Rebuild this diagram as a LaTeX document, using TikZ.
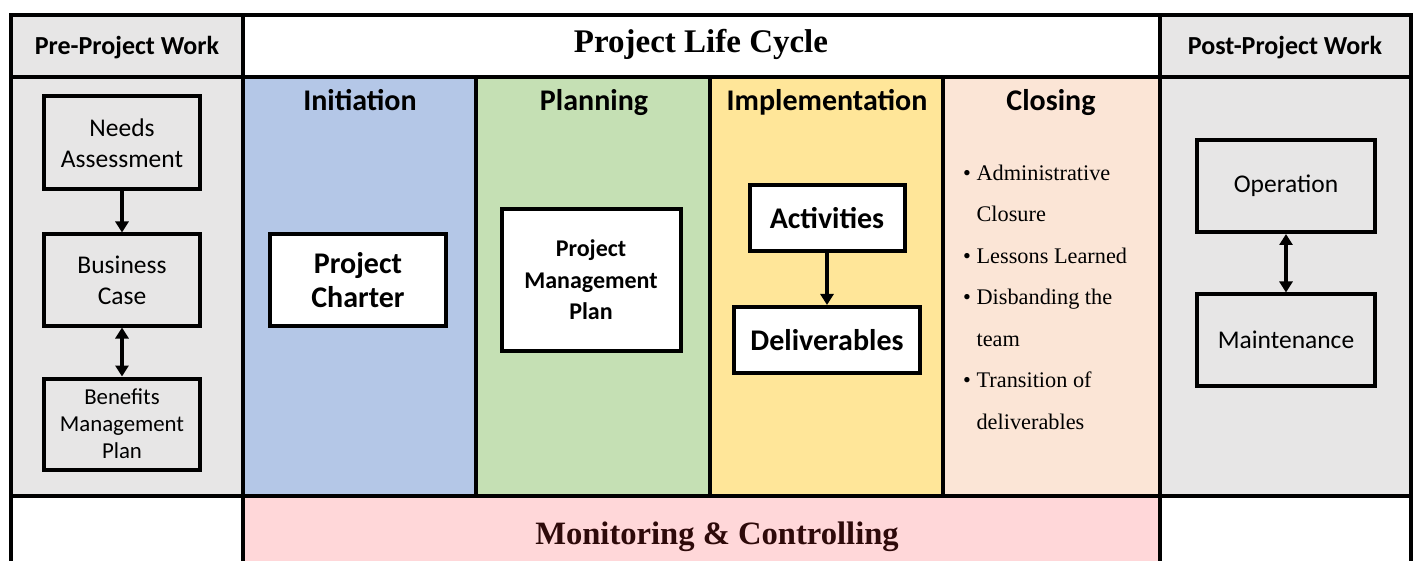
\documentclass[tikz,border=0pt]{standalone}
\usepackage{fontspec}
\setmainfont{Liberation Serif}
\newfontfamily\carlito{Carlito}
\usetikzlibrary{arrows.meta}
\definecolor{greybg}{HTML}{E7E6E6}
\definecolor{initc}{HTML}{B4C7E7}
\definecolor{planc}{HTML}{C5E0B4}
\definecolor{implc}{HTML}{FFE699}
\definecolor{closc}{HTML}{FBE5D6}
\definecolor{monc}{HTML}{FFD7D9}
\definecolor{montext}{HTML}{2E0A0A}
\begin{document}
\begin{tikzpicture}[x=1pt,y=-1pt,
  frame/.style={line width=4pt,black},
  sidebox/.style={draw,line width=4pt,fill=greybg,align=center,inner sep=0pt,
     font=\carlito\fontsize{25.5}{31}\selectfont},
  phasebox/.style={draw,line width=4pt,fill=white,align=center,inner sep=0pt,
     font=\carlito\bfseries\fontsize{30}{34}\selectfont},
  hdr/.style={anchor=base,font=\carlito\bfseries\fontsize{26}{30}\selectfont},
  phase/.style={anchor=base,font=\carlito\bfseries\fontsize{30}{34}\selectfont},
  arr/.style={line width=4pt,-{Triangle[length=11pt,width=13pt]}},
  darr/.style={line width=4pt,{Triangle[length=11pt,width=13pt]}-{Triangle[length=11pt,width=13pt]}}
]
\useasboundingbox (0,0) rectangle (1416,561);
% backgrounds
\fill[greybg] (11,15) rectangle (243,496);
\fill[greybg] (1160,15) rectangle (1411,496);
\fill[initc] (243,77) rectangle (476,496);
\fill[planc] (476,77) rectangle (710,496);
\fill[implc] (710,77) rectangle (943,496);
\fill[closc] (943,77) rectangle (1160,496);
\fill[monc] (243,496) rectangle (1160,561);
% frame lines
\draw[frame] (11,561) -- (11,15) -- (1411,15) -- (1411,561);
\draw[frame] (11,77) -- (1411,77);
\draw[frame] (11,496) -- (1411,496);
\draw[frame] (243,15) -- (243,561);
\draw[frame] (1160,15) -- (1160,561);
\draw[frame] (476,77) -- (476,496);
\draw[frame] (710,77) -- (710,496);
\draw[frame] (943,77) -- (943,496);
% headers
\node[hdr] (pre) at (127,55) {Pre-Project Work};
\node[anchor=base,font=\bfseries\fontsize{33}{36}\selectfont] (plc) at (701,53) {Project Life Cycle};
\node[hdr] (post) at (1285,55) {Post-Project Work};
\node[phase] (ini) at (360,111) {Initiation};
\node[phase] (pla) at (594,111) {Planning};
\node[phase] (imp) at (827,111) {Implementation};
\node[phase] (clo) at (1051,111) {Closing};
% pre-project boxes
\node[sidebox,minimum width=156pt,minimum height=93pt] (needs) at (122,143) {Needs\\Assessment};
\node[sidebox,minimum width=156pt,minimum height=91pt] (bus) at (122,280) {Business\\Case};
\node[sidebox,minimum width=156pt,minimum height=91pt,font=\carlito\fontsize{22.8}{27}\selectfont] (ben) at (122,424) {Benefits\\Management\\Plan};
\draw[arr] (needs) -- (bus);
\draw[darr] (bus) -- (ben);
% phase boxes
\node[phasebox,minimum width=176pt,minimum height=91pt] (charter) at (358,280) {Project\\Charter};
\node[phasebox,minimum width=179pt,minimum height=141pt,font=\carlito\bfseries\fontsize{24}{31.5}\selectfont] (pmp) at (591,280) {Project\\Management\\Plan};
\node[phasebox,minimum width=155pt,minimum height=66pt] (act) at (827,218) {Activities};
\node[phasebox,minimum width=186pt,minimum height=66pt] (del) at (827,340) {Deliverables};
\draw[arr] (act) -- (del);
% closing list
\node[anchor=base west,align=left,inner sep=0pt,font=\fontsize{22.3}{41.5}\selectfont] (list) at (963,429)
 {\textbullet\ Administrative\\
  \phantom{\textbullet\ }Closure\\
  \textbullet\ Lessons Learned\\
  \textbullet\ Disbanding the\\
  \phantom{\textbullet\ }team\\
  \textbullet\ Transition of\\
  \phantom{\textbullet\ }deliverables};
% post-project boxes
\node[sidebox,minimum width=178pt,minimum height=92pt] (op) at (1286,186) {Operation};
\node[sidebox,minimum width=178pt,minimum height=91pt] (mnt) at (1286,340) {Maintenance};
\draw[darr] (op) -- (mnt);
% monitoring
\node[anchor=base,font=\bfseries\fontsize{32.6}{36}\selectfont,text=montext] (mon) at (717,544) {Monitoring \& Controlling};
\end{tikzpicture}
\end{document}
